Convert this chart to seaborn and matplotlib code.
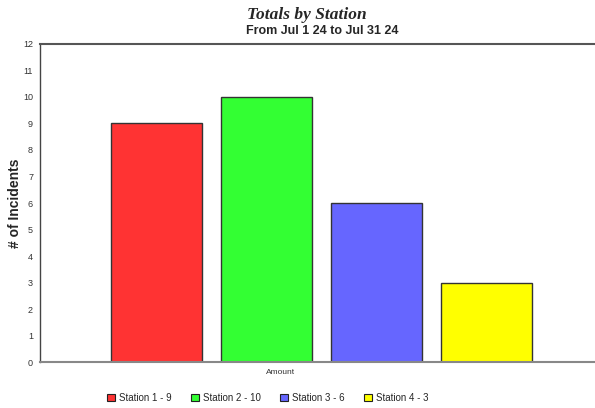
import pandas as pd
import seaborn as sns
import matplotlib.pyplot as plt

# data
stations = ['Station 1 - 9', 'Station 2 - 10', 'Station 3 - 6', 'Station 4 - 3']
incidents = [9, 10, 6, 3]
colors = ['#FF3333', '#33FF33', '#6666FF', '#FFFF00']
yticks = list(range(0, 13))

df = pd.DataFrame({'Station': stations, 'Incidents': incidents})

sns.set_style('white')
plt.rcParams['font.family'] = ['Liberation Sans', 'DejaVu Sans']

fig = plt.figure(figsize=(5.95, 4.08), dpi=100)
ax = fig.add_axes([0.0672, 0.1127, 0.9328, 0.7795])

sns.barplot(data=df, x='Station', y='Incidents', hue='Station', palette=colors,
            saturation=1, width=0.827, edgecolor='#333333', linewidth=1,
            legend=False, ax=ax)

ax.set_xlim(-1.06, 3.99)
ax.set_ylim(0, 12)
ax.set_yticks(yticks)
ax.set_yticklabels([str(t) for t in yticks], fontsize=6.5, color='#333333')
ax.set_xticks([1.13])
ax.set_xticklabels(['Amount'], fontsize=6, color='#333333')
ax.tick_params(axis='both', length=3, width=0.8, color='#333333', pad=2)
ax.set_xlabel('')
ax.set_ylabel('# of Incidents', fontsize=10, fontweight='bold')
ax.yaxis.set_label_coords(-0.032, 0.5)

ax.spines['left'].set_color('#444444')
ax.spines['left'].set_linewidth(1)
ax.spines['bottom'].set_color('#888888')
ax.spines['bottom'].set_linewidth(1.5)
ax.spines['top'].set_color('#555555')
ax.spines['top'].set_linewidth(1.5)
ax.spines['right'].set_visible(False)

fig.text(0.516, 0.963, 'Totals by Station', ha='center', va='center',
         fontsize=12.5, fontweight='bold', style='italic', family='Liberation Serif')
fig.text(0.541, 0.925, 'From Jul 1 24 to Jul 31 24', ha='center', va='center',
         fontsize=9, fontweight='bold')

handles = [plt.Rectangle((0, 0), 1, 1, facecolor=c, edgecolor='#222222', linewidth=0.8)
           for c in colors]
fig.legend(handles, stations, loc='center', bbox_to_anchor=(0.45, 0.025), ncol=4,
           frameon=False, fontsize=7, handlelength=0.8, handleheight=0.8,
           handletextpad=0.4, columnspacing=2.0)

fig.savefig('out.png', dpi=100)
